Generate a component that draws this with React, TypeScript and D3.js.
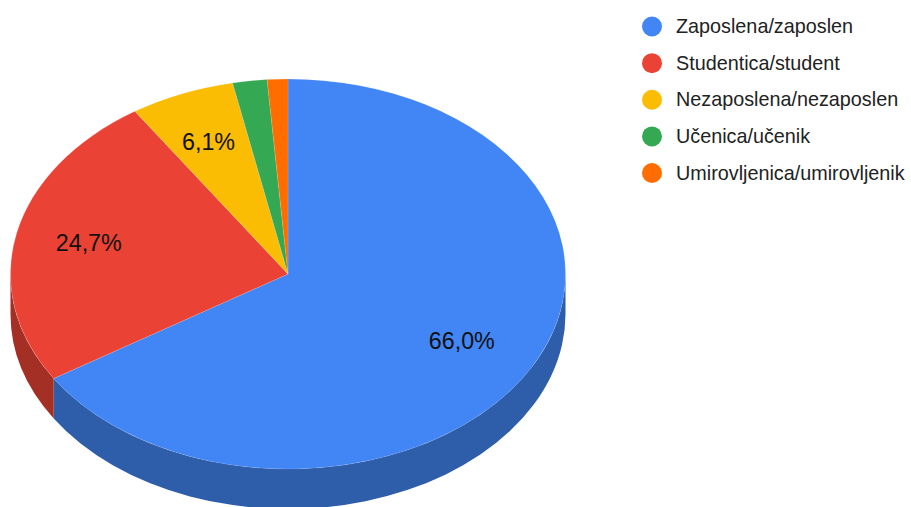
import React from "react";
import * as d3 from "d3";

const categories = ["Zaposlena/zaposlen", "Studentica/student", "Nezaposlena/nezaposlen", "Učenica/učenik", "Umirovljenica/umirovljenik"];
const shares = [66.0, 24.7, 6.1, 2.0, 1.2];
const sliceLabels = ["66,0%", "24,7%", "6,1%", "", ""];
const topColors = ["#4285f4", "#ea4335", "#fbbc04", "#34a853", "#ff6d01"];
const sideColors = ["#2e5daa", "#a32f25", "#b08403", "#247539", "#b34c01"];

const W = 911, H = 507, CX = 288, CY = 274, RX = 277.5, RY = 195, DEPTH = 40;

const pie = d3.pie<number>().sort(null).value((d) => d);
const arcs = pie(shares);
const arcGen = d3.arc<d3.PieArcDatum<number>>().innerRadius(0).outerRadius(RX);
const pt = (a: number, dy = 0): [number, number] => [CX + RX * Math.sin(a), CY - RY * Math.cos(a) + dy];

function sidePath(a0: number, a1: number) {
  const s = Math.max(a0, Math.PI / 2), e = Math.min(a1, (3 * Math.PI) / 2);
  if (e <= s) return null;
  const [x0, y0] = pt(s), [x1, y1] = pt(e);
  return `M${x0},${y0}A${RX},${RY} 0 0 1 ${x1},${y1}L${x1},${y1 + DEPTH}A${RX},${RY} 0 0 0 ${x0},${y0 + DEPTH}Z`;
}

const legendY = d3.scalePoint<string>().domain(categories).range([26.5, 173]);
const FONT = "'Liberation Sans', Arial, sans-serif";

export default function App() {
  return (
    <svg width={W} height={H} style={{ position: "absolute", left: 0, top: 0, background: "#fff" }} fontFamily={FONT}>
      {arcs.map((d, i) => {
        const p = sidePath(d.startAngle, d.endAngle);
        return p ? <path key={i} d={p} fill={sideColors[i]} /> : null;
      })}
      <g transform={`translate(${CX},${CY}) scale(1,${RY / RX})`}>
        {arcs.map((d, i) => (
          <path key={i} d={arcGen(d) || ""} fill={topColors[i]} stroke="#fff" strokeOpacity={0.18} strokeWidth={0.8} />
        ))}
      </g>
      {arcs.map((d, i) => {
        if (!sliceLabels[i]) return null;
        const m = (d.startAngle + d.endAngle) / 2;
        const x = CX + RX * 0.725 * Math.sin(m) - 2.5;
        const y = CY - RY * 0.725 * Math.cos(m) - 1;
        return (
          <text key={i} x={x} y={y} textAnchor="middle" dominantBaseline="central" fontSize={23.3} fill="#111">
            {sliceLabels[i]}
          </text>
        );
      })}
      {categories.map((c, i) => (
        <g key={c} transform={`translate(0,${legendY(c)})`}>
          <circle cx={652} cy={0} r={10} fill={topColors[i]} />
          <text x={676} y={-0.5} dominantBaseline="central" fontSize={19.8} fill="#222">{c}</text>
        </g>
      ))}
    </svg>
  );
}
